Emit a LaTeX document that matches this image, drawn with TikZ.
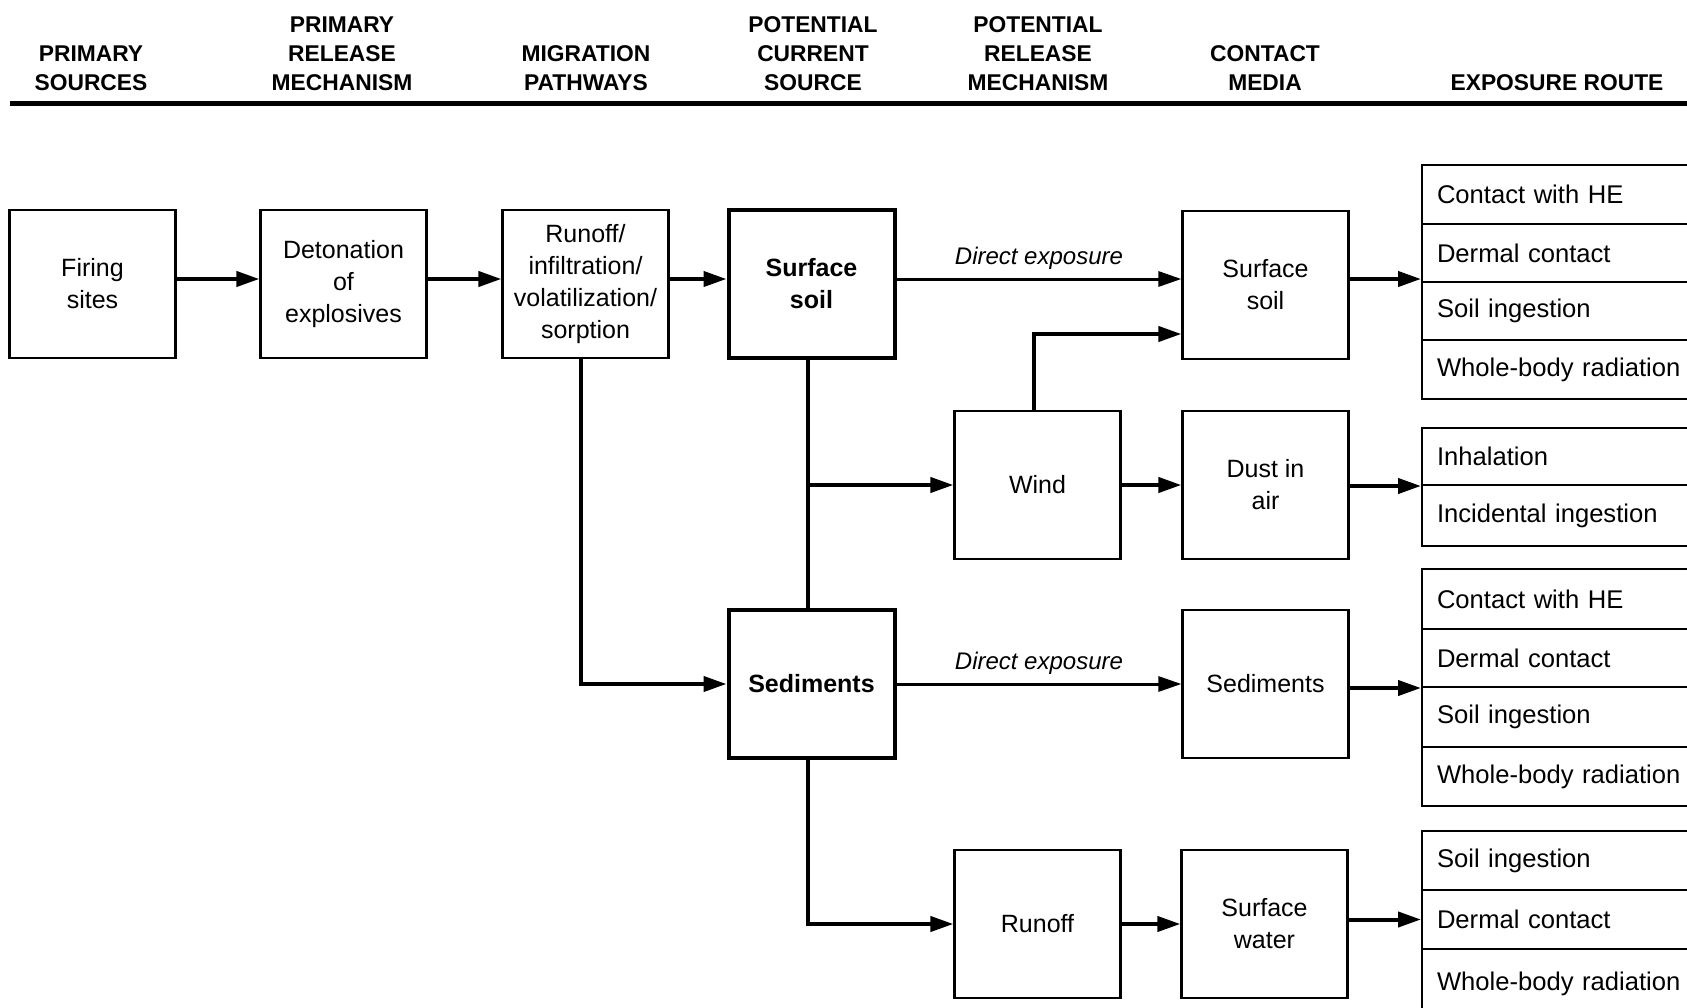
\documentclass[tikz,border=0pt]{standalone}
\usepackage{fontspec}
\setmainfont{Liberation Sans}
\usetikzlibrary{arrows.meta}

\begin{document}
\begin{tikzpicture}[x=0.5pt,y=-0.5pt,
  box/.style={draw, line width=1.1pt, minimum width=83pt, minimum height=74pt,
    inner sep=2pt, align=center, font=\fontsize{12.5}{16}\selectfont},
  srcbox/.style={box, line width=2pt, font=\fontsize{12.5}{16}\selectfont\bfseries},
  hdr/.style={anchor=south, inner sep=0pt, align=center,
    font=\fontsize{11.4}{14.5}\selectfont\bfseries},
  route/.style={draw, line width=1pt, minimum width=145pt, text width=130pt,
    inner xsep=7.5pt, inner ysep=0pt, align=left, anchor=north west,
    font=\fontsize{12.8}{15}\selectfont},
  flow/.style={line width=2pt, -{Triangle[length=11.5pt,width=7.5pt]}},
  direct/.style={line width=1.5pt, -{Triangle[length=11.5pt,width=7.5pt]}},
  lbl/.style={font=\fontsize{12}{14}\selectfont\itshape, inner sep=0pt, above=4pt}
]
\useasboundingbox (0,0) rectangle (1687,1007);
\fill[white] (0,0) rectangle (1687,1007);
\clip (0,0) rectangle (1687,1007);

% column headings
\node[hdr] (h1) at (91,91)   {PRIMARY\\SOURCES};
\node[hdr] (h2) at (342,91)  {PRIMARY\\RELEASE\\MECHANISM};
\node[hdr] (h3) at (586,91)  {MIGRATION\\PATHWAYS};
\node[hdr] (h4) at (813,91)  {POTENTIAL\\CURRENT\\SOURCE};
\node[hdr] (h5) at (1038,91) {POTENTIAL\\RELEASE\\MECHANISM};
\node[hdr] (h6) at (1265,91) {CONTACT\\MEDIA};
\node[hdr] (h7) at (1557,91) {EXPOSURE ROUTE};
\draw[line width=2.5pt] (10,103) -- (1687,103);

% boxes
\node[box]    (fire)   at (92.5,284)   {Firing\\sites};
\node[box]    (deton)  at (343.5,284)  {Detonation\\of\\explosives};
\node[box]    (mig)    at (585.5,284)  {Runoff/\\infiltration/\\volatilization/\\sorption};
\node[srcbox] (ss1)    at (811.5,283.5){Surface\\soil};
\node[box]    (ss2)    at (1265.5,285) {Surface\\soil};
\node[box]    (wind)   at (1037.5,485) {Wind};
\node[box]    (dust)   at (1265.5,485) {Dust in\\air};
\node[srcbox] (sed1)   at (811.5,684)  {Sediments};
\node[box]    (sed2)   at (1265.5,684) {Sediments};
\node[box]    (runoff) at (1037.5,924) {Runoff};
\node[box]    (sw)     at (1264.5,924) {Surface\\water};

% exposure routes
\node[route, minimum height=29.5pt] (r1a) at (1421,164) {Contact with HE};
\node[route, minimum height=29pt]   (r1b) at (1421,223) {Dermal contact};
\node[route, minimum height=29pt]   (r1c) at (1421,281) {Soil ingestion};
\node[route, minimum height=29.5pt] (r1d) at (1421,339) {Whole-body radiation};

\node[route, minimum height=28.5pt] (r2a) at (1421,427) {Inhalation};
\node[route, minimum height=30.5pt] (r2b) at (1421,484) {Incidental ingestion};

\node[route, minimum height=30pt]   (r3a) at (1421,568) {Contact with HE};
\node[route, minimum height=29pt]   (r3b) at (1421,628) {Dermal contact};
\node[route, minimum height=30pt]   (r3c) at (1421,686) {Soil ingestion};
\node[route, minimum height=29.5pt] (r3d) at (1421,746) {Whole-body radiation};

\node[route, minimum height=29.5pt] (r4a) at (1421,830) {Soil ingestion};
\node[route, minimum height=29.5pt] (r4b) at (1421,889) {Dermal contact};
\node[route, minimum height=35pt]   (r4c) at (1421,948) {Whole-body radiation};

% connectors
\draw[flow] (fire.east |- 0,279) -- (deton.west |- 0,279);
\draw[flow] (deton.east |- 0,279) -- (mig.west |- 0,279);
\draw[flow] (mig.east |- 0,279) -- (ss1.west |- 0,279);
\draw[direct] (ss1.east |- 0,279) -- node[lbl] {Direct exposure} (ss2.west |- 0,279);
\draw[flow] (ss2.east |- 0,279) -- (r1b.south west |- 0,279);

\draw[flow] ([xshift=-2.5pt]mig.south) |- (sed1.west);
\draw[line width=2pt] ([xshift=-2pt]ss1.south) -- ([xshift=-2pt]sed1.north);
\draw[flow] ([xshift=-2pt]ss1.south |- wind.west) -- (wind.west);
\draw[flow] ([xshift=-2pt]wind.north) |- (ss2.west |- 0,334);
\draw[flow] (wind.east) -- (dust.west);
\draw[flow] (dust.east |- r2a.south west) -- (r2a.south west);

\draw[direct] (sed1.east) -- node[lbl] {Direct exposure} (sed2.west);
\draw[flow] (sed2.east |- r3b.south west) -- (r3b.south west);

\draw[flow] ([xshift=-2pt]sed1.south) |- (runoff.west);
\draw[flow] (runoff.east) -- (sw.west);
\draw[flow] (sw.east |- r4b.west) -- (r4b.west);
\end{tikzpicture}
\end{document}
